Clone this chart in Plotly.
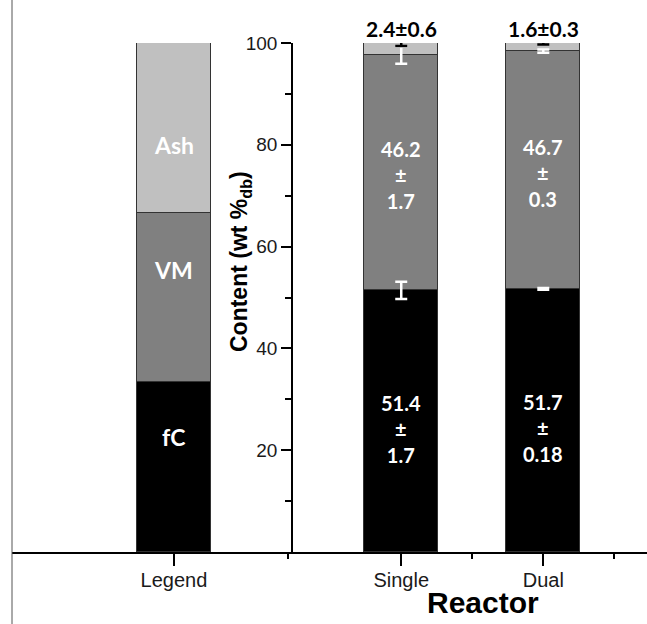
import numpy as np
import plotly.graph_objects as go

# Proximate analysis of char (wt % dry basis) for single vs dual reactor
categories = ["Legend", "Single", "Dual"]
x_pos = [-0.6, 1.0, 2.0]           # numeric positions of the three bars
fc_vals = [100 / 3, 51.4, 51.7]
vm_vals = [100 / 3, 46.2, 46.7]
ash_vals = [100 / 3, 2.4, 1.6]
fc_err = [1.7, 0.18]
vm_err = [1.7, 0.3]
ash_err = [0.6, 0.3]
fc_err_txt = ["1.7", "0.18"]
vm_err_txt = ["1.7", "0.3"]
ash_err_txt = ["0.6", "0.3"]

BOLD = "Lato"
PLAIN = "Liberation Sans"
bar_w = 0.52
edge = dict(color="#333333", width=1)

fig = go.Figure()
for name, vals, col in [("fC", fc_vals, "#000000"),
                        ("VM", vm_vals, "#808080"),
                        ("Ash", ash_vals, "#c0c0c0")]:
    fig.add_trace(go.Bar(x=x_pos, y=vals, width=bar_w, name=name,
                         marker=dict(color=col, line=edge), showlegend=False))

# error bars sit on the top of each stacked segment
data_x = np.array(x_pos[1:])
fc = np.array(fc_vals[1:])
vm = np.array(vm_vals[1:])
ash = np.array(ash_vals[1:])
fig.add_trace(go.Scatter(
    x=np.concatenate([data_x, data_x]), y=np.concatenate([fc, fc + vm]),
    mode="markers", marker=dict(size=0.1, color="rgba(0,0,0,0)"),
    error_y=dict(type="data", array=fc_err + vm_err, color="white",
                 thickness=2.5, width=6),
    cliponaxis=False, showlegend=False, hoverinfo="skip"))
fig.add_trace(go.Scatter(
    x=data_x, y=fc + vm + ash,
    mode="markers", marker=dict(size=0.1, color="rgba(0,0,0,0)"),
    error_y=dict(type="data", array=ash_err, color="black",
                 thickness=2.5, width=6),
    cliponaxis=False, showlegend=False, hoverinfo="skip"))

white_bold = dict(family=BOLD, size=20, color="white", weight="bold")
ann = []
# labels inside the legend bar
for txt, yv in [("Ash", 80.0), ("VM", 55.5), ("fC", 22.5)]:
    ann.append(dict(x=x_pos[0], y=yv, xref="x", yref="y", text=txt,
                    showarrow=False, yanchor="middle",
                    font=dict(family=BOLD, size=23, color="white", weight="bold")))
# value labels in the data bars
for i in range(2):
    ann.append(dict(x=data_x[i], y=fc[i] / 2 - 1.5, xref="x", yref="y",
                    text=f"{fc[i]:.1f}<br>±<br>{fc_err_txt[i]}", showarrow=False,
                    yanchor="middle", font=white_bold))
    ann.append(dict(x=data_x[i], y=fc[i] + vm[i] / 2 - 0.5, xref="x", yref="y",
                    text=f"{vm[i]:.1f}<br>±<br>{vm_err_txt[i]}", showarrow=False,
                    yanchor="middle", font=white_bold))
    ann.append(dict(x=data_x[i], y=(552 - 29) / 509, xref="x", yref="paper",
                    text=f"{ash[i]:.1f}±{ash_err_txt[i]}", showarrow=False,
                    yanchor="middle",
                    font=dict(family=BOLD, size=21, color="black", weight="bold")))
# axis titles
ann.append(dict(x=(240 - 12) / 635, y=(552 - 262) / 509, xref="paper", yref="paper",
                textangle=-90, text="Content (wt %<sub>db</sub>)", showarrow=False,
                xanchor="center", yanchor="middle",
                font=dict(family=PLAIN, size=23, color="black", weight="bold")))
ann.append(dict(x=(483 - 12) / 635, y=(552 - 602) / 509, xref="paper", yref="paper",
                text="Reactor", showarrow=False, xanchor="center", yanchor="middle",
                font=dict(family=PLAIN, size=30, color="black", weight="bold")))

fig.update_layout(
    width=647, height=624,
    margin=dict(l=12, r=0, t=43, b=72),
    paper_bgcolor="white", plot_bgcolor="white",
    barmode="stack", bargap=0,
    annotations=ann,
    shapes=[dict(type="line", xref="paper", yref="paper", x0=0, x1=0,
                 y0=-0.142, y1=1.09, line=dict(color="#555555", width=1))],
    xaxis=dict(range=[-1.74, 2.73], tickmode="array", tickvals=x_pos,
               ticktext=categories, ticks="outside", ticklen=12, tickwidth=2,
               tickcolor="black", showline=True, linecolor="black", linewidth=2,
               showgrid=False, zeroline=False, ticklabelstandoff=-3,
               tickfont=dict(family=PLAIN, size=20, color="#1a1a1a"),
               minor=dict(tickmode="array", tickvals=[0.2, 1.5, 2.5], ticks="outside",
                          ticklen=5, tickwidth=2, tickcolor="black", showgrid=False)),
    yaxis=dict(range=[0, 100], anchor="free", position=(292 - 12) / 635,
               tickmode="array", tickvals=[20, 40, 60, 80, 100],
               ticks="outside", ticklen=10, tickwidth=1.5, tickcolor="black",
               showline=True, linecolor="black", linewidth=1.5,
               showgrid=False, zeroline=False,
               tickfont=dict(family=PLAIN, size=19, color="#1a1a1a"),
               minor=dict(tickmode="array", tickvals=[10, 30, 50, 70, 90], ticks="outside",
                          ticklen=6, tickwidth=1.5, tickcolor="black", showgrid=False)),
)

fig.write_html("out.html")
